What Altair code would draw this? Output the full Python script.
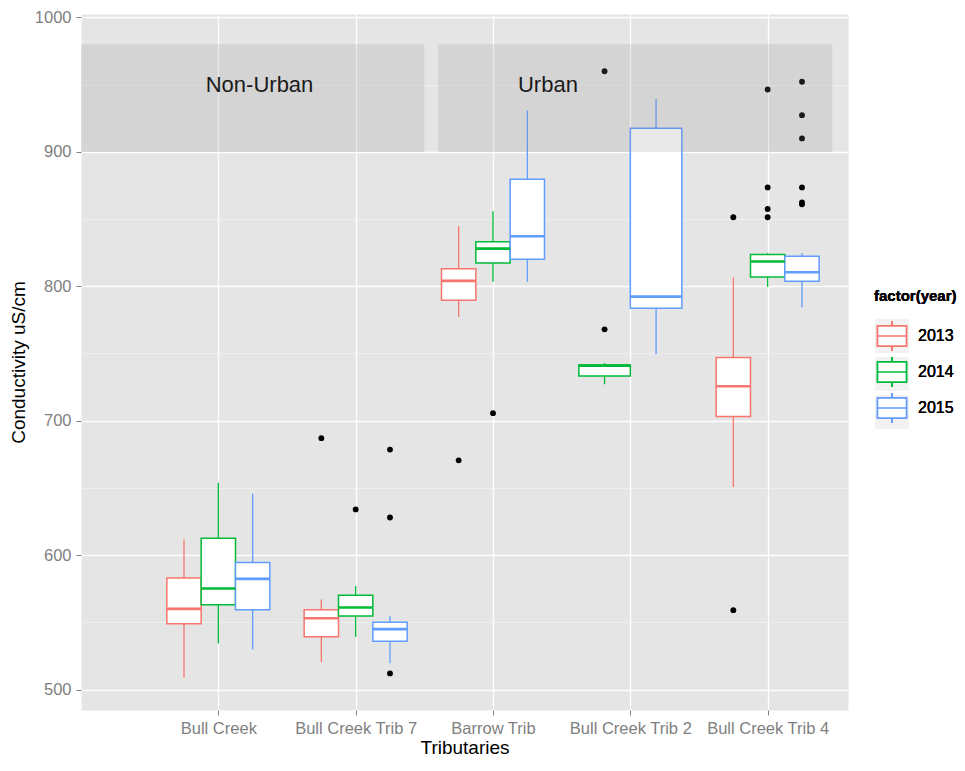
import altair as alt
import pandas as pd

# ---------------- data ----------------
categories = ["Bull Creek", "Bull Creek Trib 7", "Barrow Trib", "Bull Creek Trib 2", "Bull Creek Trib 4"]
years = ["2013", "2014", "2015"]
year_colors = ["#F8766D", "#00BA38", "#619CFF"]
key_background = ["#F2F2F2", "#F2F2F2", "#F2F2F2"]

box_category = ["Bull Creek"] * 3 + ["Bull Creek Trib 7"] * 3 + ["Barrow Trib"] * 3 \
    + ["Bull Creek Trib 2"] * 2 + ["Bull Creek Trib 4"] * 3
box_year = ["2013", "2014", "2015", "2013", "2014", "2015", "2013", "2014", "2015",
            "2014", "2015", "2013", "2014", "2015"]
whisker_low = [508.8, 534.2, 529.8, 520.3, 539.0, 519.6, 777.4, 803.3, 803.3, 727.1, 749.6, 650.7, 799.6, 784.5]
q1 = [549.0, 563.0, 559.3, 539.3, 554.7, 535.9, 789.6, 817.4, 820.1, 733.2, 783.7, 703.2, 807.0, 803.8]
median = [560.0, 575.2, 582.3, 553.0, 561.0, 544.9, 804.0, 828.0, 837.2, 741.0, 792.3, 725.6, 818.4, 810.4]
q3 = [583.0, 612.6, 594.5, 559.3, 570.1, 550.0, 813.1, 833.1, 879.7, 741.5, 917.6, 747.1, 823.6, 822.3]
whisker_high = [611.6, 653.8, 645.6, 566.9, 577.1, 554.7, 844.8, 855.8, 930.8, 743.0, 939.3, 806.5, 824.8, 824.8]

outlier_category = ["Bull Creek Trib 7"] * 5 + ["Barrow Trib"] * 2 + ["Bull Creek Trib 2"] * 2 \
    + ["Bull Creek Trib 4"] * 12
outlier_year = ["2013", "2014", "2015", "2015", "2015",
                "2013", "2014",
                "2014", "2014",
                "2013", "2013", "2014", "2014", "2014", "2014",
                "2015", "2015", "2015", "2015", "2015", "2015"]
outlier_value = [687.0, 634.0, 678.5, 628.0, 512.0,
                 670.5, 705.6,
                 960.0, 768.0,
                 851.4, 559.0, 946.4, 873.6, 857.5, 851.4,
                 952.2, 927.3, 910.0, 873.6, 862.4, 861.0]

zone_label = ["Non-Urban", "Urban"]
zone_xmin = [0.0, 2.6]
zone_xmax = [2.5, 5.47]
zone_ymin = [900.0, 900.0]
zone_ymax = [980.0, 980.0]
zone_text_x = [1.3, 3.4]
zone_text_y = [950.0, 950.0]

y_ticks = [500, 550, 600, 650, 700, 750, 800, 850, 900, 950, 1000]
x_ticks = [1, 2, 3, 4, 5]

# ---------------- tables ----------------
boxes = pd.DataFrame({
    "category": box_category, "year": box_year,
    "lo": whisker_low, "q1": q1, "med": median, "q3": q3, "hi": whisker_high,
})
cat_index = {c: i + 1 for i, c in enumerate(categories)}
boxes["idx"] = boxes["category"].map(cat_index)
n_groups = boxes.groupby("category")["year"].transform("count")
rank = boxes.groupby("category").cumcount()
dodge = 0.75
boxes["w"] = dodge / n_groups
boxes["x_left"] = boxes["idx"] - dodge / 2 + rank * boxes["w"]
boxes["x_right"] = boxes["x_left"] + boxes["w"]
boxes["x_mid"] = boxes["x_left"] + boxes["w"] / 2
boxes["year_key"] = boxes["year"]

outliers = pd.DataFrame({"category": outlier_category, "year": outlier_year, "value": outlier_value})
outliers = outliers.merge(boxes[["category", "year", "x_mid"]], on=["category", "year"], how="left")

zones = pd.DataFrame({"label": zone_label, "xmin": zone_xmin, "xmax": zone_xmax,
                      "ymin": zone_ymin, "ymax": zone_ymax,
                      "tx": zone_text_x, "ty": zone_text_y})

# ---------------- scales / axes ----------------
FONT = "Liberation Sans"
GREY = "#7F7F7F"

x_scale = alt.Scale(domain=[0, 5.585], nice=False, zero=False)
y_scale = alt.Scale(domain=[484.75, 1002.6], nice=False, zero=False)

label_array = "[" + ",".join(["''"] + ["'" + c + "'" for c in categories]) + "]"
x_axis = alt.Axis(
    values=x_ticks, labelExpr=label_array + "[datum.value]",
    grid=True, gridColor="#FFFFFF", gridWidth=1.3, domain=False,
    ticks=True, tickColor=GREY, tickSize=5, tickWidth=1,
    labelColor=GREY, labelFont=FONT, labelFontSize=16.5, labelPadding=5,
    labelOverlap=False, labelFlush=False, labelBound=False,
    titleFont=FONT, titleFontSize=19, titleFontWeight="normal", titleColor="#000000",
    titlePadding=2,
)
minor_test = "datum.value % 100 !== 0"
y_axis = alt.Axis(
    values=y_ticks, format="d",
    labelExpr="datum.value % 100 === 0 ? datum.label : ''",
    grid=True,
    gridColor={"condition": {"test": minor_test, "value": "#F2F2F2"}, "value": "#FFFFFF"},
    gridWidth={"condition": {"test": minor_test, "value": 0.7}, "value": 1.3},
    tickOpacity={"condition": {"test": minor_test, "value": 0}, "value": 1},
    domain=False, ticks=True, tickColor=GREY, tickSize=5, tickWidth=1,
    labelColor=GREY, labelFont=FONT, labelFontSize=16.5, labelPadding=5,
    titleFont=FONT, titleFontSize=19, titleFontWeight="normal", titleColor="#000000",
    titlePadding=6,
)


def X(field):
    return alt.X(field + ":Q", scale=x_scale, axis=x_axis, title="Tributaries")


def Y(field):
    return alt.Y(field + ":Q", scale=y_scale, axis=y_axis, title="Conductivity uS/cm")


LEG_X, LEG_Y, LEG_SIZE, LEG_ROWPAD = 793, 275, 1156, -3
TITLE_FS, TITLE_PAD = 15, 14
legend_path = ("M-0.85,-0.59L0.85,-0.59L0.85,0.59L-0.85,0.59Z "
               "M-0.85,0L0.85,0 M0,-0.59L0,-0.88 M0,0.59L0,0.88")
stroke_enc = alt.Stroke(
    "year:N", scale=alt.Scale(domain=years, range=year_colors),
    legend=alt.Legend(
        title="factor(year)", orient="none", legendX=LEG_X, legendY=LEG_Y,
        symbolType=legend_path, symbolSize=LEG_SIZE, symbolStrokeWidth=1.5,
        symbolFillColor="#FFFFFF", symbolOpacity=1,
        labelFont=FONT, labelFontSize=16, labelColor="#000000", labelOffset=8,
        titleFont=FONT, titleFontSize=TITLE_FS, titleFontWeight="bold", titleColor="#000000",
        titlePadding=TITLE_PAD, rowPadding=LEG_ROWPAD,
    ),
)
# grey key backgrounds, drawn as a second (title-less, label-less) legend underneath
key_fill_enc = alt.Fill(
    "year_key:N", scale=alt.Scale(range=key_background),
    legend=alt.Legend(
        title=None, orient="none", legendX=LEG_X, legendY=LEG_Y + TITLE_FS + TITLE_PAD,
        symbolType="square", symbolSize=LEG_SIZE, symbolStrokeWidth=1.5,
        symbolStrokeColor="transparent", symbolOpacity=1,
        labelExpr="''", labelFontSize=16, labelOffset=8,
        rowPadding=LEG_ROWPAD,
    ),
)

base = alt.Chart(boxes)

key_layer = base.mark_rect(opacity=0).encode(
    x=X("x_left"), x2="x_right", y=Y("q1"), y2="q3", fill=key_fill_enc)
whiskers = base.mark_rule(strokeWidth=1.3).encode(
    x=X("x_mid"), y=Y("lo"), y2="hi", stroke=stroke_enc)
box = base.mark_rect(fill="#FFFFFF", strokeWidth=1.5).encode(
    x=X("x_left"), x2="x_right", y=Y("q1"), y2="q3", stroke=stroke_enc)
med = base.mark_rule(strokeWidth=2.6).encode(
    x=X("x_left"), x2="x_right", y=Y("med"), stroke=stroke_enc)
pts = alt.Chart(outliers).mark_circle(size=34, color="#000000", opacity=1).encode(
    x=X("x_mid"), y=Y("value"))
zone_rects = alt.Chart(zones).mark_rect(fill="#888888", opacity=0.19).encode(
    x=X("xmin"), x2="xmax", y=Y("ymin"), y2="ymax")
zone_texts = alt.Chart(zones).mark_text(font=FONT, fontSize=22, color="#1A1A1A").encode(
    x=X("tx"), y=Y("ty"), text="label:N")

chart = alt.layer(key_layer, whiskers, box, med, pts, zone_rects, zone_texts).properties(
    width=767, height=696,
    autosize="none",
    padding={"left": 73, "top": 6, "right": 109, "bottom": 49},
    background="#FFFFFF",
).resolve_scale(fill="independent", stroke="independent").configure_view(
    fill="#E5E5E5", stroke="transparent")

chart.save("out.html", embed_options={"renderer": "svg", "actions": False})
